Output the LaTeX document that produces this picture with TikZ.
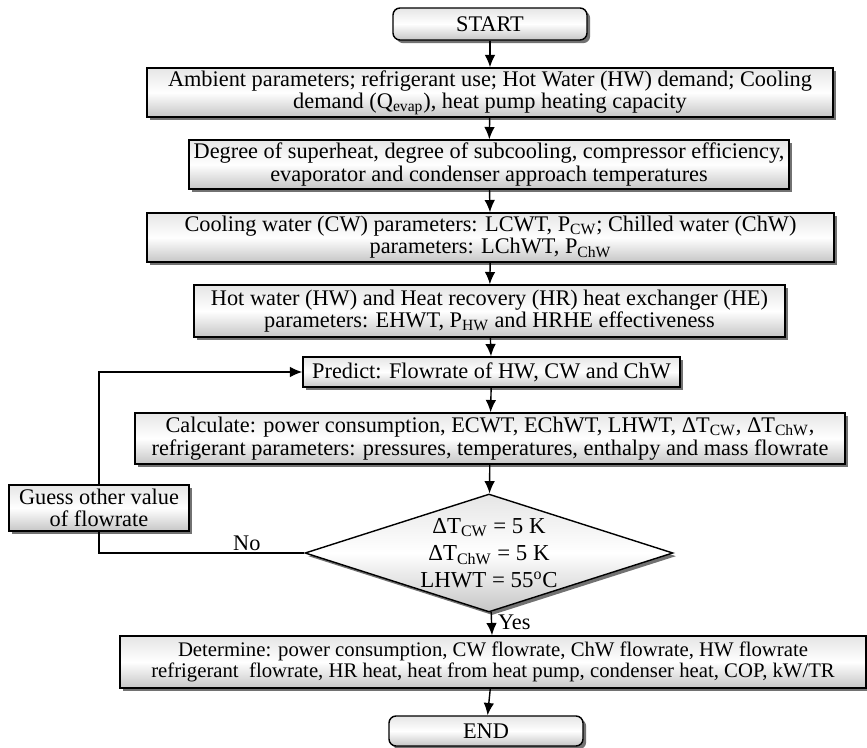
\documentclass[tikz,border=0pt]{standalone}
\usepackage{fontspec}
\setmainfont{Liberation Serif}
\usepackage{tikz}
\usetikzlibrary{arrows,arrows.meta,calc,positioning,shadows,shapes}

\begin{document}
\begin{tikzpicture}[auto,>={Latex[length=7pt,width=6pt]},line width=0.8pt,font=\fontsize{12.7}{12.6}\selectfont]
	\tikzstyle{block} = [draw, rectangle, align=center, inner sep=1pt, top color=gray!20, bottom color=gray!45, middle color=white, drop shadow={shadow xshift=1.8pt, shadow yshift=-1.8pt, fill=black!65, opacity=0.85}]
	\tikzstyle{term} = [block, rounded corners=4pt]
	\tikzstyle{decision} = [block, diamond, aspect=3.1, inner sep=0pt, font=\fontsize{13}{15.5}\selectfont]

	\useasboundingbox (0,0) rectangle (17.34,-14.96);

	\node [term, minimum width=3.88cm, minimum height=0.64cm] (start) at (9.8,-0.48) {START};
	\node [block, minimum width=13.72cm, minimum height=0.98cm] (ambient) at (9.8,-1.85) {Ambient parameters; refrigerant use; Hot Water (HW) demand; Cooling\\ demand (Q\textsubscript{evap}), heat pump heating capacity};
	\node [block, minimum width=12.0cm, minimum height=0.98cm] (superheat) at (9.78,-3.29) {Degree of superheat, degree of subcooling, compressor efficiency,\\ evaporator and condenser approach temperatures};
	\node [block, minimum width=13.74cm, minimum height=0.98cm] (water) at (9.81,-4.75) {Cooling water (CW) parameters: LCWT, P\textsubscript{CW}; Chilled water (ChW)\\ parameters: LChWT, P\textsubscript{ChW}};
	\node [block, minimum width=11.82cm, minimum height=1.04cm] (hotwater) at (9.79,-6.22) {Hot water (HW) and Heat recovery (HR) heat exchanger (HE)\\ parameters: EHWT, P\textsubscript{HW} and HRHE effectiveness};
	\node [block, minimum width=7.54cm, minimum height=0.6cm] (predict) at (9.83,-7.44) {Predict: Flowrate of HW, CW and ChW};
	\node [block, minimum width=14.2cm, minimum height=1.02cm, font=\fontsize{12.7}{13.4}\selectfont] (calc) at (9.8,-8.77) {Calculate: power consumption, ECWT, EChWT, LHWT, ΔT\textsubscript{CW}, ΔT\textsubscript{ChW},\\ refrigerant parameters: pressures, temperatures, enthalpy and mass flowrate};
	\node [decision, minimum width=7.36cm, minimum height=2.36cm] (check) at (9.78,-11.06) {ΔT\textsubscript{CW} = 5 K\\ ΔT\textsubscript{ChW} = 5 K\\ LHWT = 55\textsuperscript{o}C};
	\node [block, minimum width=14.92cm, minimum height=1.04cm, font=\fontsize{11.8}{12.4}\selectfont] (determine) at (9.86,-13.24) {Determine: power consumption, CW flowrate, ChW flowrate, HW flowrate\\ refrigerant\ \ flowrate, HR heat, heat from heat pump, condenser heat, COP, kW/TR};
	\node [term, minimum width=3.88cm, minimum height=0.6cm] (end) at (9.72,-14.62) {END};

	\node [block, minimum width=3.6cm, minimum height=0.92cm] (guess) at (1.98,-10.16) {Guess other value\\ of flowrate};

	\draw [->] (start) -- (ambient);
	\draw [->] (ambient) -- (superheat);
	\draw [->] (superheat) -- (water);
	\draw [->] (water) -- (hotwater);
	\draw [->] (hotwater) -- (predict);
	\draw [->] (predict) -- (calc);
	\draw [->] (calc) -- (check);
	\draw [->] (check) --node[right, pos=0.45]{Yes} (determine);
	\draw [->] (determine) -- (end);
	\draw [-] (check.west) -|node[above, pos=0.14, inner sep=1pt]{No} (guess.south);
	\draw [->] (guess.north) |- (predict.west);

\end{tikzpicture}
\end{document}
